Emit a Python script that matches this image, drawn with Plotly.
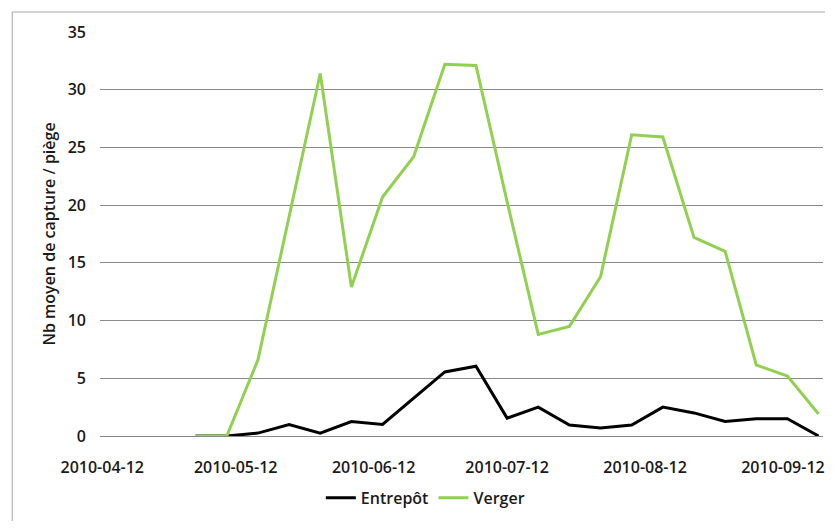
import plotly.graph_objects as go

dates = ["2010-05-03", "2010-05-10", "2010-05-17", "2010-05-24", "2010-05-31",
         "2010-06-07", "2010-06-14", "2010-06-21", "2010-06-28", "2010-07-05",
         "2010-07-12", "2010-07-19", "2010-07-26", "2010-08-02", "2010-08-09",
         "2010-08-16", "2010-08-23", "2010-08-30", "2010-09-06", "2010-09-13",
         "2010-09-20"]
entrepot = [0, 0, 0.25, 1.0, 0.25, 1.25, 1.0, 3.3, 5.55, 6.05,
            1.55, 2.5, 0.95, 0.7, 0.95, 2.5, 2.0, 1.25, 1.5, 1.5, 0]
verger = [0, 0, 6.6, 19.0, 31.4, 12.9, 20.7, 24.2, 32.2, 32.1,
          20.3, 8.8, 9.5, 13.8, 26.1, 25.9, 17.2, 16.0, 6.15, 5.2, 1.9]
tick_dates = ["2010-04-12", "2010-05-12", "2010-06-12", "2010-07-12",
              "2010-08-12", "2010-09-12"]
y_ticks = [0, 5, 10, 15, 20, 25, 30, 35]

FONT = dict(family="Open Sans", size=16, color="#1a1a1a", weight=600)

fig = go.Figure()
fig.add_trace(go.Scatter(x=dates, y=entrepot, name="Entrepôt", mode="lines",
                         line=dict(color="#000000", width=3)))
fig.add_trace(go.Scatter(x=dates, y=verger, name="Verger", mode="lines",
                         line=dict(color="#92D050", width=3)))

# page body has an 8px margin: figure is sized/offset to compensate
fig.update_layout(
    width=817, height=513,
    margin=dict(l=92, r=0, t=24, b=85),
    paper_bgcolor="white", plot_bgcolor="white",
    font=FONT,
    showlegend=True,
    legend=dict(orientation="h", x=0.45, xanchor="center", y=-0.153, yanchor="middle",
                font=FONT, itemwidth=30, tracegroupgap=0),
    xaxis=dict(type="date", range=["2010-04-11 12:00", "2010-09-21 00:00"],
               tickvals=tick_dates, ticktext=tick_dates, tickfont=FONT,
               showgrid=False, showline=False, zeroline=False, ticks="",
               ticklabelstandoff=20, ticklabeloverflow="allow"),
    yaxis=dict(range=[0, 35], tickvals=y_ticks, tickfont=FONT,
               showgrid=True, gridcolor="#8a8a8a", gridwidth=1,
               zeroline=True, zerolinecolor="#8a8a8a", zerolinewidth=1,
               showline=False, ticks="", ticklabelstandoff=13,
               title=dict(text="Nb moyen de capture / piège", font=FONT, standoff=8)),
    shapes=[dict(type="rect", xref="paper", yref="paper",
                 x0=-0.1214, x1=1.05, y0=-0.4, y1=1.0495,
                 line=dict(color="#a6a6a6", width=1), layer="below")],
)

fig.write_html("out.html")
